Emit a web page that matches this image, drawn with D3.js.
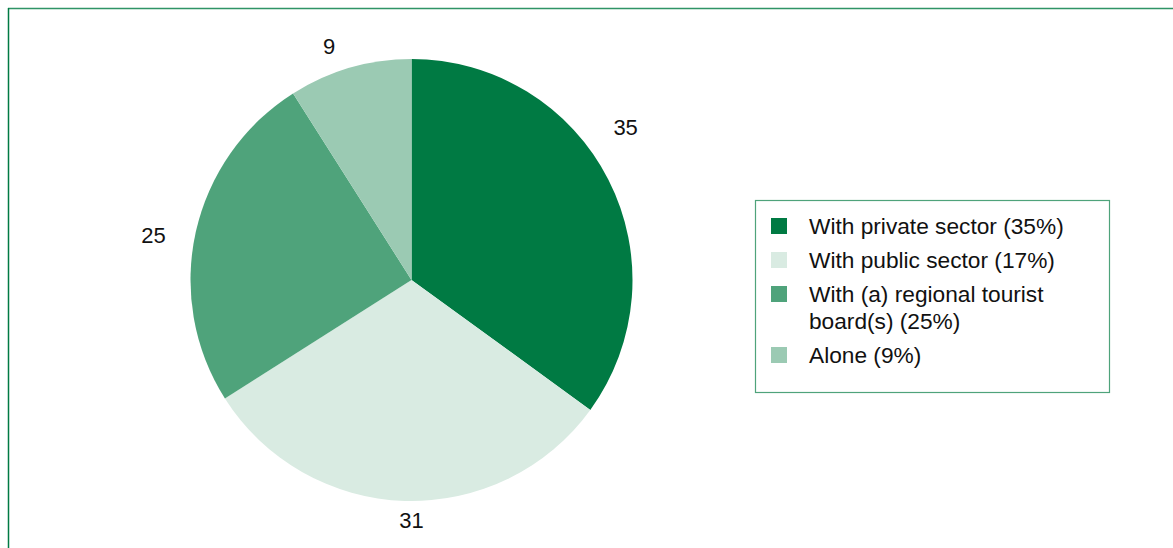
<!DOCTYPE html>
<html>
<head>
<meta charset="utf-8">
<script src="https://cdn.jsdelivr.net/npm/d3@7"></script>
<style>
  html, body { margin: 0; padding: 0; background: #fff; }
  svg { display: block; }
  text { font-family: "Liberation Sans", Arial, Helvetica, sans-serif; fill: #111; }
</style>
</head>
<body>
<svg id="chart" width="1173" height="548"></svg>
<script>
// slice values, clockwise from 12 o'clock
const categories = ["With private sector", "With public sector", "With (a) regional tourist board(s)", "Alone"];
const values = [35, 31, 25, 9];
const colors = ["#007a43", "#d9ebe2", "#4fa37b", "#9bcab3"];
// legend text as printed (wrapped lines)
const legendLines = [
  ["With private sector (35%)"],
  ["With public sector (17%)"],
  ["With (a) regional tourist", "board(s) (25%)"],
  ["Alone (9%)"]
];

// label placement tweaks (degrees / px), to mimic the original placement
const labelAngleShift = [-8.5, -1.8, -2.7, -3.2];
const labelRadius = [263, 240, 262, 248];

const width = 1173, height = 548;
const cx = 411.5, cy = 280, radius = 221;
const fontSize = 22;
const legendFontSize = 22.7;

const svg = d3.select("#chart");

// frame lines (top and left)
svg.append("line")
  .attr("x1", 8).attr("x2", width).attr("y1", 8.5).attr("y2", 8.5)
  .attr("stroke", "#2f9466").attr("stroke-width", 1.5);
svg.append("line")
  .attr("x1", 8.5).attr("x2", 8.5).attr("y1", 8).attr("y2", height)
  .attr("stroke", "#007a43").attr("stroke-width", 1.5);

const pie = d3.pie().sort(null).value(d => d);
const arcs = pie(values);
const arc = d3.arc().innerRadius(0).outerRadius(radius);

const g = svg.append("g").attr("transform", `translate(${cx},${cy})`);

g.selectAll("path")
  .data(arcs)
  .join("path")
  .attr("d", arc)
  .attr("fill", (d, i) => colors[i]);

g.selectAll("text.val")
  .data(arcs)
  .join("text")
  .attr("class", "val")
  .attr("text-anchor", "middle")
  .attr("dy", "0.36em")
  .attr("font-size", fontSize)
  .attr("transform", (d, i) => {
    const a = (d.startAngle + d.endAngle) / 2 + labelAngleShift[i] * Math.PI / 180;
    const r = labelRadius[i];
    return `translate(${r * Math.sin(a)},${-r * Math.cos(a)})`;
  })
  .text(d => d.data);

// legend
const lx = 755, ly = 200, lw = 354, lh = 192;
const legend = svg.append("g");
legend.append("rect")
  .attr("x", lx + 0.5).attr("y", ly + 0.5)
  .attr("width", lw).attr("height", lh)
  .attr("fill", "#fff").attr("stroke", "#4fa37b").attr("stroke-width", 1.2);

const rowGap = 34, lineHeight = 27, sq = 16;
let baseline = 234;
legendLines.forEach((lines, i) => {
  legend.append("rect")
    .attr("x", 771).attr("y", baseline - sq)
    .attr("width", sq).attr("height", sq)
    .attr("fill", colors[i]);
  const t = legend.append("text")
    .attr("x", 809).attr("y", baseline)
    .attr("font-size", legendFontSize);
  lines.forEach((ln, j) => {
    t.append("tspan").attr("x", 809).attr("y", baseline + j * lineHeight).text(ln);
  });
  baseline += rowGap + (lines.length - 1) * lineHeight;
});
</script>
</body>
</html>
